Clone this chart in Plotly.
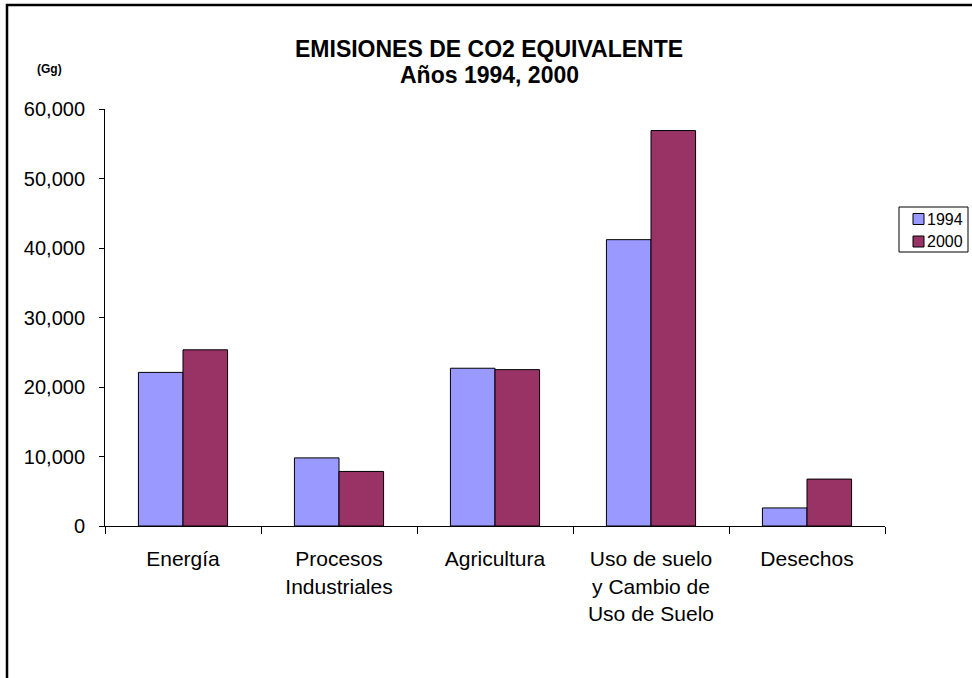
import plotly.graph_objects as go

# Emission categories (multi-line labels for the x axis)
categories = [
    "Energía",
    "Procesos<br>Industriales",
    "Agricultura",
    "Uso de suelo<br>y Cambio de<br>Uso de Suelo",
    "Desechos",
]

# CO2-equivalent emissions, Gg
emis_1994 = [22100, 9800, 22700, 41200, 2600]
emis_2000 = [25350, 7850, 22500, 56900, 6750]

series_names = ["1994", "2000"]
series_colors = ["#9999FF", "#993366"]

W, H = 972, 678
# plot-area pixel box
PL, PR, PT, PB = 105, 885, 109, 526


def px_x(p):
    return (p - PL) / (PR - PL)


def px_y(p):
    return (PB - p) / (PB - PT)


FONT = "Liberation Sans, Arial, sans-serif"

fig = go.Figure()
for name, vals, col in zip(series_names, [emis_1994, emis_2000], series_colors):
    fig.add_trace(go.Bar(
        x=categories, y=vals, name=name,
        marker=dict(color=col, line=dict(color="black", width=1)),
        showlegend=False,
    ))

fig.update_layout(
    width=W, height=H,
    margin=dict(l=PL, r=W - PR, t=PT, b=H - PB),
    paper_bgcolor="white", plot_bgcolor="white",
    barmode="group", bargap=1.5 / 3.5, bargroupgap=0,
    font=dict(family=FONT, color="black"),
    xaxis=dict(
        type="category", showline=True, linecolor="black", linewidth=1,
        ticks="outside", tickson="boundaries", ticklen=7, tickcolor="black",
        tickfont=dict(size=21), showgrid=False, ticklabelstandoff=14,
    ),
    yaxis=dict(
        range=[0, 60000], dtick=10000, tickformat=",",
        showline=True, linecolor="black", linewidth=1,
        ticks="outside", ticklen=5, tickcolor="black",
        tickfont=dict(size=20), showgrid=False, zeroline=False,
        ticklabelstandoff=10,
    ),
)

# outer chart frame (extends past the right and bottom edges)
fig.add_shape(type="rect", xref="paper", yref="paper",
              x0=px_x(7), x1=px_x(990), y0=px_y(700), y1=px_y(5),
              line=dict(color="black", width=2.5), fillcolor="rgba(0,0,0,0)",
              layer="above")

# titles
fig.add_annotation(xref="paper", yref="paper", x=px_x(489), y=px_y(49),
                   text="<b>EMISIONES DE CO2 EQUIVALENTE</b>", showarrow=False,
                   font=dict(size=23), xanchor="center", yanchor="middle")
fig.add_annotation(xref="paper", yref="paper", x=px_x(489), y=px_y(75),
                   text="<b>Años 1994, 2000</b>", showarrow=False,
                   font=dict(size=23), xanchor="center", yanchor="middle")
fig.add_annotation(xref="paper", yref="paper", x=px_x(35), y=px_y(69),
                   text="<b>(Gg)</b>", showarrow=False,
                   font=dict(size=12), xanchor="left", yanchor="middle")

# legend box
LX0, LX1, LY0, LY1 = 899, 968, 207, 252
fig.add_shape(type="rect", xref="paper", yref="paper",
              x0=px_x(LX0), x1=px_x(LX1), y0=px_y(LY1), y1=px_y(LY0),
              line=dict(color="black", width=1), fillcolor="white")
for i, (name, col) in enumerate(zip(series_names, series_colors)):
    cy = 219 + i * 22.5
    fig.add_shape(type="rect", xref="paper", yref="paper",
                  x0=px_x(913), x1=px_x(924), y0=px_y(cy + 5.5), y1=px_y(cy - 5.5),
                  line=dict(color="black", width=1), fillcolor=col)
    fig.add_annotation(xref="paper", yref="paper", x=px_x(925), y=px_y(cy),
                       text=name, showarrow=False, font=dict(size=16),
                       xanchor="left", yanchor="middle")

fig.write_html("out.html")
